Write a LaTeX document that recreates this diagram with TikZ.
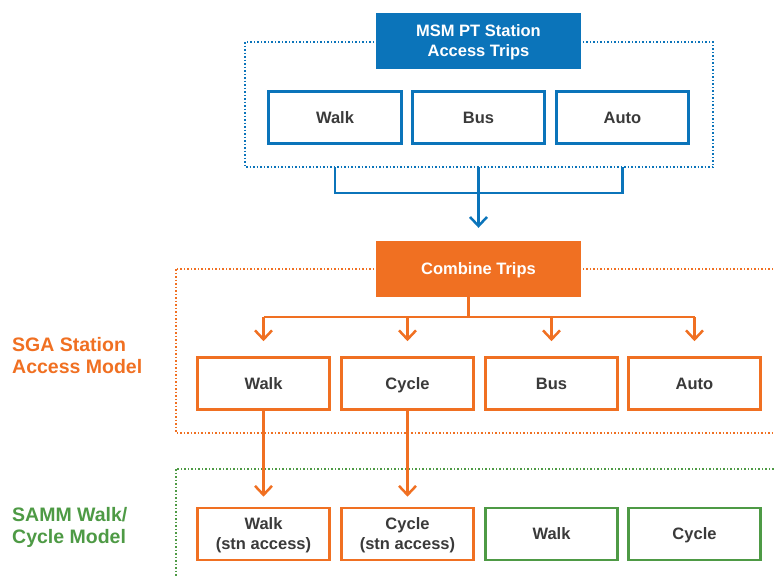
\documentclass[tikz,border=0pt]{standalone}
\usepackage{fontspec}
\setmainfont{Liberation Sans}
\usetikzlibrary{arrows.meta}
\definecolor{bl}{HTML}{0B74BA}
\definecolor{og}{HTML}{F07022}
\definecolor{gr}{HTML}{4E9A45}
\definecolor{tx}{HTML}{3A3A3A}
\begin{document}
\begin{tikzpicture}[x=1pt,y=-1pt,
  boxtxt/.style={font=\bfseries\fontsize{16.5}{20}\selectfont, align=center, inner sep=0pt, text depth=0pt},
  modebox/.style={boxtxt, draw, line width=2.6pt, fill=white, text=tx, minimum width=132.5pt, minimum height=52pt},
  headbox/.style={boxtxt, text=white, minimum width=205pt, minimum height=56pt},
  frame/.style={dotted, line width=1.5pt},
  conn/.style={line width=2.5pt},
  arr/.style={conn, -{Straight Barb[length=9pt,width=17pt,line width=2.5pt]}},
  sidelabel/.style={font=\bfseries\fontsize{19.5}{22}\selectfont, align=left, anchor=west, inner sep=0pt}
]
\useasboundingbox (0,0) rectangle (774,576);
% frames
\draw[frame, bl] (245,42) rectangle (713,167);
\draw[frame, og] (176,269) rectangle (790,433);
\draw[frame, gr] (176,469) rectangle (790,600);
\coordinate (tfb) at (0,167);
\coordinate (tjoin) at (0,193);
\coordinate (ojoin) at (0,317);
% top
\node[headbox, fill=bl] (msm) at (478.5,41) {MSM PT Station\\Access Trips};
\node[modebox, draw=bl] (bwalk) at (335,117.5) {Walk};
\node[modebox, draw=bl] (bbus) at (478.5,117.5) {Bus};
\node[modebox, draw=bl] (bauto) at (622.5,117.5) {Auto};
% middle
\node[headbox, fill=og] (combine) at (478.5,269) {Combine Trips};
\node[modebox, draw=og] (swalk) at (263.5,383.5) {Walk};
\node[modebox, draw=og] (scycle) at (407.5,383.5) {Cycle};
\node[modebox, draw=og] (sbus) at (551.5,383.5) {Bus};
\node[modebox, draw=og] (sauto) at (694.5,383.5) {Auto};
% bottom
\node[modebox, draw=og] (mwalk) at (263.5,534) {Walk\\(stn access)};
\node[modebox, draw=og] (mcycle) at (407.5,534) {Cycle\\(stn access)};
\node[modebox, draw=gr] (mwalk2) at (551.5,534) {Walk};
\node[modebox, draw=gr] (mcycle2) at (694.5,534) {Cycle};
% labels
\node[sidelabel, text=og] (lsga) at (12,356) {SGA Station\\Access Model};
\node[sidelabel, text=gr] (lsamm) at (12,527) {SAMM Walk/\\Cycle Model};
% connectors top
\draw[conn, bl] (bwalk |- tfb) -- (bwalk |- tjoin) -- (bauto |- tjoin) -- (bauto |- tfb);
\draw[arr, bl, shorten >=13pt] (bbus |- tfb) -- (combine.north);
% connectors middle
\coordinate (stem) at ([xshift=-10pt]combine.south);
\draw[conn, og] (stem) -- (stem |- ojoin);
\draw[conn, og] (swalk |- ojoin) -- (sauto |- ojoin);
\draw[arr, og, shorten >=15pt] (swalk |- ojoin) -- (swalk.north);
\draw[arr, og, shorten >=15pt] (scycle |- ojoin) -- (scycle.north);
\draw[arr, og, shorten >=15pt] (sbus |- ojoin) -- (sbus.north);
\draw[arr, og, shorten >=15pt] (sauto |- ojoin) -- (sauto.north);
% connectors bottom
\draw[arr, og, shorten >=10pt] (swalk.south) -- (mwalk.north);
\draw[arr, og, shorten >=10pt] (scycle.south) -- (mcycle.north);
\end{tikzpicture}
\end{document}
